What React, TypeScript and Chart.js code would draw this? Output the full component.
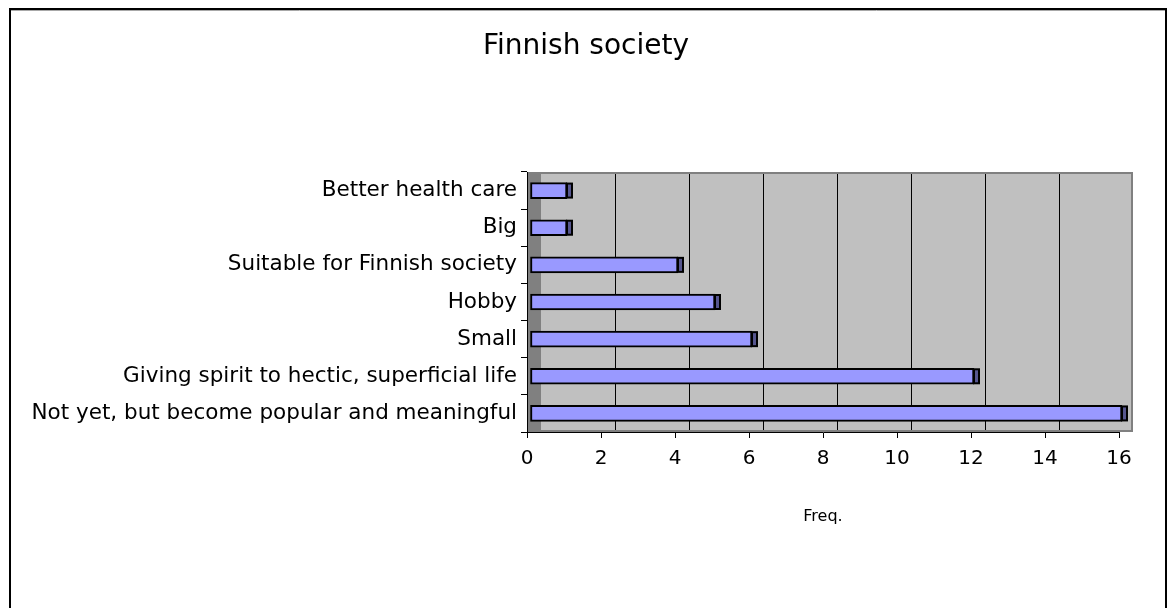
import React, { useEffect, useRef } from 'react';
import { Chart, registerables } from 'chart.js';

Chart.register(...registerables);

// Survey answers and how many respondents gave each one
const categories = [
  'Better health care',
  'Big',
  'Suitable for Finnish society',
  'Hobby',
  'Small',
  'Giving spirit to hectic, superficial life',
  'Not yet, but become popular and meaningful',
];
const frequencies = [1, 1, 4, 5, 6, 12, 16];

const axisMin = 0;
const axisMax = 16;
const axisStep = 2;

const chartTitle = 'Finnish society';
const valueAxisTitle = 'Freq.';

const FONT = "'DejaVu Sans', Verdana, sans-serif";
const DEPTH = 14; // horizontal offset of the back wall
const BAR_SHIFT = 3; // bars sit a little behind the front plane
const SIDE = 6; // width of the visible bar end face

// Outer border of the chart object plus its centred heading
const framePlugin = {
  id: 'frame',
  afterDraw(chart: any) {
    const { ctx, width, height } = chart;
    ctx.save();
    ctx.strokeStyle = '#a8a8a8';
    ctx.lineWidth = 1;
    ctx.beginPath();
    ctx.moveTo(11, 10.5);
    ctx.lineTo(width - 5, 10.5);
    ctx.stroke();
    ctx.strokeStyle = '#000';
    ctx.lineWidth = 2;
    ctx.beginPath();
    ctx.moveTo(10, height + 2);
    ctx.lineTo(10, 9);
    ctx.lineTo(width - 4, 9);
    ctx.lineTo(width - 4, height + 2);
    ctx.stroke();

    ctx.fillStyle = '#000';
    ctx.font = `28px ${FONT}`;
    ctx.textAlign = 'center';
    ctx.textBaseline = 'middle';
    ctx.fillText(chartTitle, (10 + width - 4) / 2 - 2, 47);
    ctx.restore();
  },
};

const wallPlugin = {
  id: 'wall3d',
  beforeDraw(chart: any) {
    const { ctx, chartArea, scales } = chart;
    const { top, bottom, left, right } = chartArea;
    const x = scales.x;
    ctx.save();
    // floor strip on the left
    ctx.fillStyle = '#808080';
    ctx.fillRect(left, top, DEPTH, bottom - top);
    // back wall
    const wl = left + DEPTH;
    const wr = right + DEPTH;
    ctx.fillStyle = '#c0c0c0';
    ctx.fillRect(wl, top, wr - wl, bottom - top);
    // gridlines on the back wall
    ctx.strokeStyle = '#000';
    ctx.lineWidth = 1;
    x.ticks.forEach((t: any) => {
      if (t.value <= axisMin || t.value >= axisMax) return;
      const px = Math.round(x.getPixelForValue(t.value) + DEPTH) + 0.5;
      ctx.beginPath();
      ctx.moveTo(px, top + 2);
      ctx.lineTo(px, bottom);
      ctx.stroke();
    });
    // wall edge
    ctx.strokeStyle = '#808080';
    ctx.lineWidth = 2;
    ctx.beginPath();
    ctx.moveTo(wl, top + 1);
    ctx.lineTo(wr - 1, top + 1);
    ctx.lineTo(wr - 1, bottom - 1);
    ctx.lineTo(left, bottom - 1);
    ctx.stroke();
    ctx.restore();
  },
  beforeDatasetDraw(chart: any) {
    chart.ctx.save();
    chart.ctx.translate(BAR_SHIFT, 0);
  },
  afterDatasetDraw(chart: any, args: any) {
    const { ctx } = chart;
    args.meta.data.forEach((bar: any) => {
      const { x, y, height } = bar.getProps(['x', 'y', 'height'], true);
      const t = y - height / 2;
      ctx.fillStyle = '#000';
      ctx.fillRect(x - 1, t, SIDE + 1, height);
      ctx.fillStyle = '#56568f';
      ctx.fillRect(x + 1, t + 2, SIDE - 3, height - 4);
    });
    ctx.restore();
  },
};

export default function App() {
  const canvasRef = useRef<HTMLCanvasElement | null>(null);

  useEffect(() => {
    const canvas = canvasRef.current;
    if (!canvas) return;
    const chart = new Chart(canvas, {
      type: 'bar',
      data: {
        labels: categories,
        datasets: [
          {
            data: frequencies,
            backgroundColor: '#9999ff',
            borderColor: '#000',
            borderWidth: 2,
            borderSkipped: false,
            barThickness: 16,
            clip: false as any,
          },
        ],
      },
      options: {
        indexAxis: 'y',
        animation: false,
        responsive: false,
        devicePixelRatio: 1,
        layout: { padding: { left: 0, right: 51, top: 172, bottom: 0 } },
        plugins: {
          legend: { display: false },
          tooltip: { enabled: false },
          title: { display: false },
        },
        scales: {
          x: {
            type: 'linear',
            min: axisMin,
            max: axisMax,
            ticks: {
              stepSize: axisStep,
              color: '#000',
              padding: 9,
              font: { family: FONT, size: 20 },
            },
            grid: {
              drawOnChartArea: false,
              drawTicks: true,
              tickLength: 6,
              color: '#000',
            },
            border: { display: true, color: '#000', width: 1 },
            title: {
              display: true,
              text: valueAxisTitle,
              color: '#000',
              font: { family: FONT, size: 16, lineHeight: 1.2 },
              padding: { top: 0, bottom: 82 },
            },
            afterFit(scale: any) {
              scale.height = 176;
            },
          },
          y: {
            type: 'category',
            ticks: {
              color: '#000',
              padding: 4,
              font: { family: FONT, size: 21.5 },
            },
            grid: {
              drawOnChartArea: false,
              drawTicks: true,
              tickLength: 6,
              offset: true,
              color: '#000',
            },
            border: { display: true, color: '#000', width: 1 },
            afterFit(scale: any) {
              scale.width = 527;
            },
          },
        },
      },
      plugins: [wallPlugin, framePlugin],
    });
    return () => chart.destroy();
  }, []);

  return (
    <canvas
      ref={canvasRef}
      width={1170}
      height={608}
      style={{ position: 'fixed', left: 0, top: 0, width: '1170px', height: '608px', background: '#fff' }}
    />
  );
}
